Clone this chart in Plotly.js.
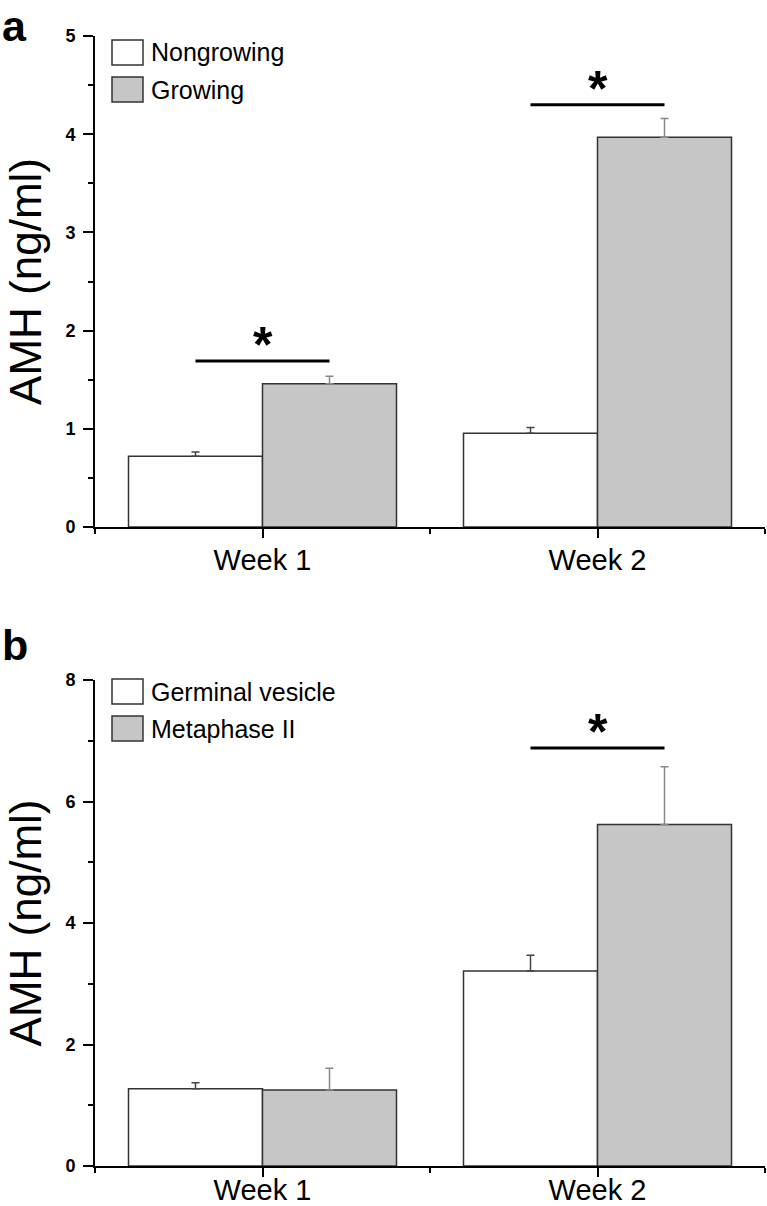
<!DOCTYPE html>
<html>
<head>
<meta charset="utf-8">
<script src="https://cdn.plot.ly/plotly-3.0.1.min.js"></script>
<style>
  html, body { margin: 0; padding: 0; background: #ffffff; }
  #chart { width: 767px; height: 1206px; }
</style>
</head>
<body>
<div id="chart"></div>
<script>
// ---------------- data ----------------
const categories = ['Week 1', 'Week 2'];

// panel a
const seriesNamesA = ['Nongrowing', 'Growing'];
const nongrowing = [0.72, 0.955];
const nongrowingErr = [0.045, 0.057];
const growing = [1.46, 3.97];
const growingErr = [0.075, 0.19];
const sigIndexA = [0, 1];
const sigLevelA = [1.69, 4.30];

// panel b
const seriesNamesB = ['Germinal vesicle', 'Metaphase II'];
const germinal = [1.27, 3.21];
const germinalErr = [0.10, 0.26];
const metaphase = [1.25, 5.62];
const metaphaseErr = [0.36, 0.95];
const sigIndexB = [1];
const sigLevelB = [6.88];

const panelLabels = ['a', 'b'];
const yTitle = 'AMH (ng/ml)';

// ---------------- helpers ----------------
const W = 767, H = 1206, L = 95, R = 2;
const PW = W - L - R;
const fx = px => (px - L) / PW;
const fy = py => 1 - py / H;
const FONT = 'Liberation Sans, Arial, Helvetica, sans-serif';
const xIdx = categories.map((c, i) => i);

const WHITE = '#ffffff', GRAY = '#c6c6c6', EDGE = '#333333';

function barTrace(vals, errs, name, fill, errColor, xa, ya) {
  return {
    type: 'bar', x: xIdx, y: vals, name: name,
    xaxis: xa, yaxis: ya, showlegend: false,
    marker: { color: fill, line: { color: EDGE, width: 1.5 } },
    error_y: { type: 'data', symmetric: false, array: errs,
               arrayminus: errs.map(() => 0), color: errColor,
               thickness: 1.5, width: 4 },
    hoverinfo: 'skip'
  };
}

const data = [
  barTrace(nongrowing, nongrowingErr, seriesNamesA[0], WHITE, '#444444', 'x', 'y'),
  barTrace(growing, growingErr, seriesNamesA[1], GRAY, '#888888', 'x', 'y'),
  barTrace(germinal, germinalErr, seriesNamesB[0], WHITE, '#444444', 'x2', 'y2'),
  barTrace(metaphase, metaphaseErr, seriesNamesB[1], GRAY, '#888888', 'x2', 'y2')
];

function xAxis(anchor, standoff) {
  return {
    anchor: anchor, domain: [0, 1], range: [-0.5, 1.5], type: 'linear',
    tickvals: xIdx, ticktext: categories,
    ticks: 'outside', ticklen: 9, tickwidth: 2, tickcolor: '#000',
    minor: { tick0: 0.5, dtick: 1, ticks: 'outside', ticklen: 5, tickwidth: 2, tickcolor: '#000' },
    showline: true, linecolor: '#000', linewidth: 2,
    showgrid: false, zeroline: false, fixedrange: true,
    tickfont: { family: FONT, size: 29, color: '#000' },
    ticklabelstandoff: standoff
  };
}
function yAxis(anchor, domain, range, dtick) {
  return {
    anchor: anchor, domain: domain, range: range,
    dtick: dtick, tick0: 0,
    ticks: 'outside', ticklen: 10, tickwidth: 2, tickcolor: '#000',
    minor: { dtick: dtick / 2, ticks: 'outside', ticklen: 5, tickwidth: 2, tickcolor: '#000' },
    showline: true, linecolor: '#000', linewidth: 2,
    showgrid: false, zeroline: false, fixedrange: true,
    tickfont: { family: FONT, size: 18, color: '#000', weight: 'bold' },
    ticklabelstandoff: 4,
    title: { text: yTitle, font: { family: FONT, size: 44, color: '#000' }, standoff: 10 }
  };
}

const shapes = [];
const annotations = [];

function addSig(idxs, levels, xr, yr) {
  idxs.forEach((i, k) => {
    shapes.push({ type: 'line', xref: xr, yref: yr,
      x0: i - 0.2, x1: i + 0.2, y0: levels[k], y1: levels[k],
      line: { color: '#000', width: 3 } });
    annotations.push({ xref: xr, yref: yr, x: i, y: levels[k],
      text: '*', showarrow: false, xanchor: 'center', yanchor: 'bottom', yshift: -14,
      font: { family: FONT, size: 50, color: '#000', weight: 'bold' } });
  });
}
addSig(sigIndexA, sigLevelA, 'x', 'y');
addSig(sigIndexB, sigLevelB, 'x2', 'y2');

// legend (drawn as boxes + text)
function addLegend(names, topPx) {
  const fills = [WHITE, GRAY];
  names.forEach((n, k) => {
    const y0 = topPx + k * 37;
    shapes.push({ type: 'rect', xref: 'paper', yref: 'paper',
      x0: fx(112), x1: fx(143), y0: fy(y0), y1: fy(y0 + 25),
      fillcolor: fills[k], line: { color: EDGE, width: 1.5 } });
    annotations.push({ xref: 'paper', yref: 'paper', x: fx(149), y: fy(y0 + 12.5),
      text: n, showarrow: false, xanchor: 'left', yanchor: 'middle',
      font: { family: FONT, size: 25, color: '#000' } });
  });
}
addLegend(seriesNamesA, 40);
addLegend(seriesNamesB, 679);

// panel labels
annotations.push({ xref: 'paper', yref: 'paper', x: fx(0), y: fy(0), text: panelLabels[0],
  showarrow: false, xanchor: 'left', yanchor: 'top',
  font: { family: FONT, size: 43, color: '#000', weight: 'bold' } });
annotations.push({ xref: 'paper', yref: 'paper', x: fx(0), y: fy(619), text: panelLabels[1],
  showarrow: false, xanchor: 'left', yanchor: 'top',
  font: { family: FONT, size: 43, color: '#000', weight: 'bold' } });

const layout = {
  width: W, height: H,
  margin: { l: L, r: R, t: 0, b: 0 },
  paper_bgcolor: '#fff', plot_bgcolor: '#fff',
  barmode: 'group', bargap: 0.2, bargroupgap: 0,
  showlegend: false,
  font: { family: FONT, color: '#000' },
  xaxis: xAxis('y', -3),
  yaxis: yAxis('x', [fy(527), fy(36)], [0, 5], 1),
  xaxis2: xAxis('y2', -12),
  yaxis2: yAxis('x2', [fy(1166), fy(680)], [0, 8], 2),
  shapes: shapes,
  annotations: annotations
};

Plotly.newPlot('chart', data, layout, { displayModeBar: false, staticPlot: true });
</script>
</body>
</html>
